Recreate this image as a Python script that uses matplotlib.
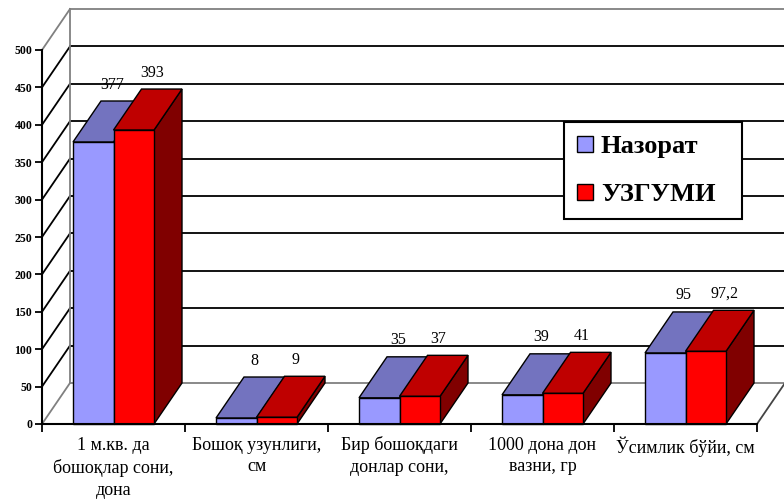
import matplotlib.pyplot as plt
from matplotlib.patches import Polygon, Patch

# Данные
categories = ['1 м.кв. да\nбошоқлар сони,\nдона',
              'Бошоқ узунлиги,\nсм',
              'Бир бошоқдаги\nдонлар сони,',
              '1000 дона дон\nвазни, гр',
              'Ўсимлик бўйи, см']
nazorat = [377, 8, 35, 39, 95]
uzgumi = [393, 9, 37, 41, 97.2]
series_names = ['Назорат', 'УЗГУМИ']
yticks = list(range(0, 501, 50))

SERIF = ['Liberation Serif', 'DejaVu Serif']

fig = plt.figure(figsize=(7.84, 4.99), dpi=100)
fig.patch.set_facecolor('white')
ax = fig.add_axes([42 / 784, 75 / 499, 715 / 784, 374 / 499])
ax.set_facecolor('none')
ax.set_xlim(0, len(categories))
ax.set_ylim(0, 500)

# глубина "3D" в единицах данных
DX = 28 / 143
DY = 41 * 500 / 374
n = len(categories)

# задняя стенка и сетка
for v in yticks:
    c = 'gray' if v in (0, 500) else 'black'
    ax.plot([DX, n + DX], [v + DY, v + DY], color=c, lw=1.3, zorder=1, clip_on=False)
    ax.plot([0, DX], [v, v + DY], color=c, lw=1.3, zorder=1, clip_on=False)
ax.plot([DX, DX], [DY, 500 + DY], color='gray', lw=1.3, zorder=1, clip_on=False)
ax.plot([n, n + DX], [0, DY], color='#444444', lw=1.3, zorder=1, clip_on=False)


def box(x0, w, v, front, top, side, z):
    pts_side = [(x0 + w, 0), (x0 + w + DX, DY), (x0 + w + DX, v + DY), (x0 + w, v)]
    pts_top = [(x0, v), (x0 + w, v), (x0 + w + DX, v + DY), (x0 + DX, v + DY)]
    pts_front = [(x0, 0), (x0 + w, 0), (x0 + w, v), (x0, v)]
    for pts, c in ((pts_side, side), (pts_top, top), (pts_front, front)):
        ax.add_patch(Polygon(pts, closed=True, fc=c, ec='black', lw=1,
                             zorder=z, clip_on=False))


W = 40.5 / 143
gap = (1 - 2 * W) / 2
for i in range(n):
    xb = i + gap
    xr = xb + W
    box(xb, W, nazorat[i], '#9999FF', '#7373BF', '#4C4C80', 3 + 2 * i)
    box(xr, W, uzgumi[i], '#FF0000', '#BF0000', '#800000', 4 + 2 * i)
    for x0, v in ((xb, nazorat[i]), (xr, uzgumi[i])):
        ax.text(x0 + W / 2 + 0.13, v + DY + 22, f'{v:g}'.replace('.', ','),
                ha='center', va='center', fontsize=11.5, family=SERIF,
                zorder=20, clip_on=False)

# оси
for s in ('top', 'right'):
    ax.spines[s].set_visible(False)
for s in ('left', 'bottom'):
    ax.spines[s].set_linewidth(1.5)
    ax.spines[s].set_zorder(30)

ax.set_yticks(yticks)
ax.set_yticklabels([str(t) for t in yticks], fontsize=8.5, fontweight='bold', family=SERIF)
ax.tick_params(axis='y', direction='out', length=5, width=1.3, pad=2)

ax.set_xticks(range(n + 1))
ax.set_xticklabels([])
ax.tick_params(axis='x', which='major', direction='out', length=6, width=1.3)
ax.set_xticks([i + 0.5 for i in range(n)], minor=True)
ax.set_xticklabels(categories, minor=True, fontsize=13, family=SERIF, linespacing=1.38)
ax.tick_params(axis='x', which='minor', length=0, pad=9)

# легенда
handles = [Patch(fc='#9999FF', ec='black', lw=1), Patch(fc='#FF0000', ec='black', lw=1)]
leg = fig.legend(handles, series_names, loc='upper left',
                 bbox_to_anchor=(564 / 784, 1 - 222 / 499, 178 / 784, 100 / 499),
                 mode='expand', borderaxespad=0, borderpad=0.5,
                 handlelength=0.6, handleheight=0.6, handletextpad=0.3,
                 labelspacing=0.95, fancybox=False, framealpha=1,
                 prop={'family': SERIF, 'weight': 'bold', 'size': 19})
leg.get_frame().set_edgecolor('black')
leg.get_frame().set_linewidth(1.5)
leg.set_zorder(40)

fig.savefig('out.png', dpi=100)
